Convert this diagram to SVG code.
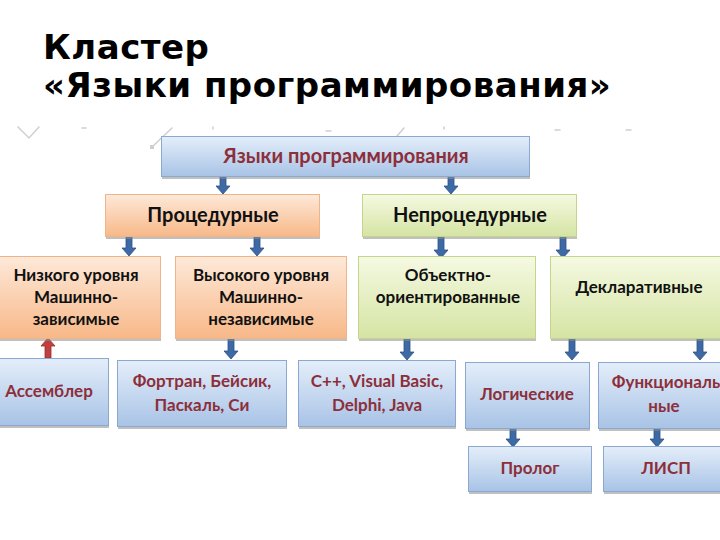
<svg xmlns="http://www.w3.org/2000/svg" width="720" height="540" viewBox="0 0 720 540">
<defs>
<linearGradient id="gBlue" x1="0" y1="0" x2="0" y2="1"><stop offset="0" stop-color="#e4eefa"/><stop offset="1" stop-color="#a8c3e6"/></linearGradient>
<linearGradient id="gOrange" x1="0" y1="0" x2="0" y2="1"><stop offset="0" stop-color="#fde9d9"/><stop offset="1" stop-color="#f8b888"/></linearGradient>
<linearGradient id="gGreen" x1="0" y1="0" x2="0" y2="1"><stop offset="0" stop-color="#f5f9e2"/><stop offset="1" stop-color="#d5e4a3"/></linearGradient>
</defs>
<style>
.title{font-family:"DejaVu Sans",sans-serif;font-weight:bold;font-size:34px;letter-spacing:0.5px;fill:#000}
.t{font-family:Lato,"Open Sans",sans-serif;font-weight:bold;font-size:17px;text-anchor:middle}
.big{font-size:20px}
.red{fill:#8c2f3a}
.blk{fill:#111}
.blue{fill:url(#gBlue);stroke:#8aa8d0;stroke-width:1}
.orange{fill:url(#gOrange);stroke:#f0b48a;stroke-width:1}
.green{fill:url(#gGreen);stroke:#c3d48c;stroke-width:1}
.shadow{fill:#8c8c8c;opacity:0.55}
.arr{fill:#3d6aa5;stroke:#2c5185;stroke-width:0.8}
.arrRed{fill:#c0403f;stroke:#9a2f2e;stroke-width:0.8}
.faint{stroke:#cfcfcf;stroke-width:1.5;fill:none;stroke-linecap:round}
</style>
<rect width="720" height="540" fill="#fff"/>
<text class="title" x="43" y="59">Кластер</text>
<text class="title" x="43" y="97">«Языки программирования»</text>

<g id="decor">
<path class="faint" d="M18,127 L29,138 L39,127"/>
<path class="faint" d="M82,128 h4"/>
<path class="faint" d="M152,147 L172,128"/>
<rect x="150" y="145" width="4" height="4" fill="#cfcfcf"/>
<path class="faint" d="M213,127 v2"/>
<path class="faint" d="M326,131 h5"/>
<path class="faint" d="M397,136 L404,128"/>
<path class="faint" d="M444,127 v2"/>
<path class="faint" d="M555,130 h5"/>
<path class="faint" d="M626,130 h5"/>
</g>

<g id="connectors">
<path class="arr" d="M220,176 h6 v10 h4 l-7,8 l-7,-8 h4 z"/>
<path class="arr" d="M448,176 h6 v10 h4 l-7,8 l-7,-8 h4 z"/>
<path class="arr" d="M126,236 h6 v12 h4 l-7,8 l-7,-8 h4 z"/>
<path class="arr" d="M254,236 h6 v12 h4 l-7,8 l-7,-8 h4 z"/>
<path class="arr" d="M438,236 h6 v14 h4 l-7,8 l-7,-8 h4 z"/>
<path class="arr" d="M560,236 h6 v14 h4 l-7,8 l-7,-8 h4 z"/>
<path class="arrRed" d="M45,358 h6 v-12 h4 l-7,-8 l-7,8 h4 z"/>
<path class="arr" d="M228,338 h6 v13 h4 l-7,8 l-7,-8 h4 z"/>
<path class="arr" d="M404,338 h6 v14 h4 l-7,8 l-7,-8 h4 z"/>
<path class="arr" d="M569,338 h6 v14 h4 l-7,8 l-7,-8 h4 z"/>
<path class="arr" d="M697,338 h6 v14 h4 l-7,8 l-7,-8 h4 z"/>
<path class="arr" d="M510,428 h6 v11 h4 l-7,8 l-7,-8 h4 z"/>
<path class="arr" d="M654,428 h6 v11 h4 l-7,8 l-7,-8 h4 z"/>
</g>

<g id="n-root">
<rect class="shadow" x="162" y="176" width="368" height="3"/>
<rect class="blue" x="161.5" y="136.5" width="368" height="40"/>
<text class="t big red" x="346" y="163">Языки программирования</text>
</g>
<g id="n-proc">
<rect class="shadow" x="106" y="236" width="214" height="3"/>
<rect class="orange" x="105.5" y="194.5" width="214" height="42"/>
<text class="t big blk" x="213" y="222">Процедурные</text>
</g>
<g id="n-nonproc">
<rect class="shadow" x="363" y="236" width="214" height="3"/>
<rect class="green" x="362.5" y="194.5" width="214" height="42"/>
<text class="t big blk" x="470" y="222">Непроцедурные</text>
</g>
<g id="n-low">
<rect class="shadow" x="0" y="338" width="161" height="3"/>
<rect class="orange" x="-1" y="256.5" width="161.5" height="82"/>
<text class="t blk" x="76" y="281">Низкого уровня</text>
<text class="t blk" x="76" y="303">Машинно-</text>
<text class="t blk" x="76" y="325">зависимые</text>
</g>
<g id="n-high">
<rect class="shadow" x="176" y="338" width="171" height="3"/>
<rect class="orange" x="175.5" y="256.5" width="171" height="82"/>
<text class="t blk" x="261" y="281">Высокого уровня</text>
<text class="t blk" x="261" y="303">Машинно-</text>
<text class="t blk" x="261" y="325">независимые</text>
</g>
<g id="n-oop">
<rect class="shadow" x="359" y="338" width="177" height="3"/>
<rect class="green" x="358.5" y="256.5" width="177" height="82"/>
<text class="t blk" x="448" y="281">Объектно-</text>
<text class="t blk" x="448" y="303">ориентированные</text>
</g>
<g id="n-decl">
<rect class="shadow" x="551" y="338" width="170" height="3"/>
<rect class="green" x="550.5" y="256.5" width="171" height="82"/>
<text class="t blk" x="639" y="293">Декларативные</text>
</g>
<g id="n-asm">
<rect class="shadow" x="0" y="425" width="109" height="3"/>
<rect class="blue" x="-1" y="358.5" width="109.5" height="67"/>
<text class="t red" x="49" y="397">Ассемблер</text>
</g>
<g id="n-fortran">
<rect class="shadow" x="118" y="426" width="169" height="3"/>
<rect class="blue" x="117.5" y="360.5" width="169" height="66"/>
<text class="t red" x="202" y="387">Фортран, Бейсик,</text>
<text class="t red" x="202" y="411">Паскаль, Си</text>
</g>
<g id="n-cpp">
<rect class="shadow" x="299" y="426" width="157" height="3"/>
<rect class="blue" x="298.5" y="360.5" width="157" height="66"/>
<text class="t red" x="377" y="387">C++, Visual Basic,</text>
<text class="t red" x="377" y="411">Delphi, Java</text>
</g>
<g id="n-logic">
<rect class="shadow" x="466" y="428" width="124" height="3"/>
<rect class="blue" x="465.5" y="362.5" width="124" height="66"/>
<text class="t red" x="527" y="400">Логические</text>
</g>
<g id="n-func">
<rect class="shadow" x="599" y="428" width="121" height="3"/>
<rect class="blue" x="598.5" y="362.5" width="123" height="66"/>
<text class="t red" x="666" y="388">Функциональ</text>
<text class="t red" x="664" y="412">ные</text>
</g>
<g id="n-prolog">
<rect class="shadow" x="469" y="491" width="123" height="3"/>
<rect class="blue" x="468.5" y="446.5" width="123" height="45"/>
<text class="t red" x="530" y="474">Пролог</text>
</g>
<g id="n-lisp">
<rect class="shadow" x="604" y="491" width="116" height="3"/>
<rect class="blue" x="603.5" y="446.5" width="118" height="45"/>
<text class="t red" x="666" y="474">ЛИСП</text>
</g>
</svg>
